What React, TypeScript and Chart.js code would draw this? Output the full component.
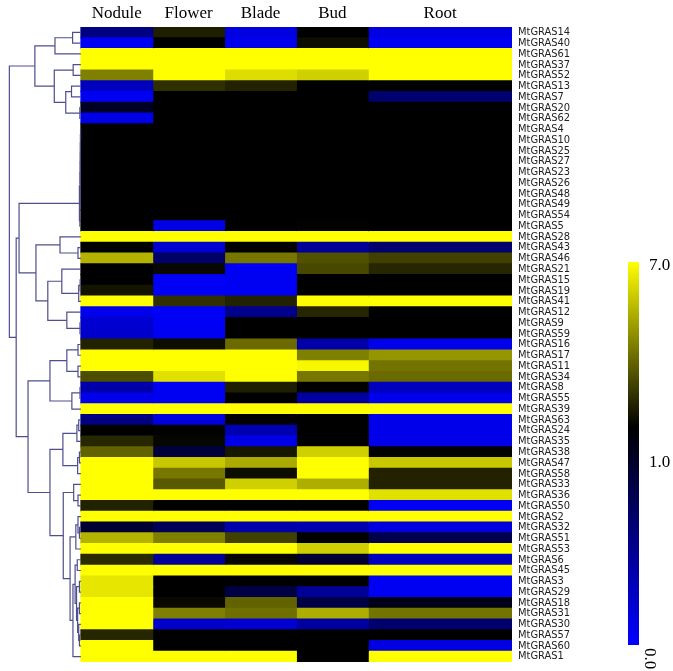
import { useEffect, useRef } from 'react';
import { Chart, registerables } from 'chart.js';

Chart.register(...registerables);

// ---------- data ----------
const genes = [
  'MtGRAS14', 'MtGRAS40', 'MtGRAS61', 'MtGRAS37', 'MtGRAS52', 'MtGRAS13', 'MtGRAS7', 'MtGRAS20', 'MtGRAS62',
  'MtGRAS4', 'MtGRAS10', 'MtGRAS25', 'MtGRAS27', 'MtGRAS23', 'MtGRAS26', 'MtGRAS48', 'MtGRAS49', 'MtGRAS54',
  'MtGRAS5', 'MtGRAS28', 'MtGRAS43', 'MtGRAS46', 'MtGRAS21', 'MtGRAS15', 'MtGRAS19', 'MtGRAS41', 'MtGRAS12',
  'MtGRAS9', 'MtGRAS59', 'MtGRAS16', 'MtGRAS17', 'MtGRAS11', 'MtGRAS34', 'MtGRAS8', 'MtGRAS55', 'MtGRAS39',
  'MtGRAS63', 'MtGRAS24', 'MtGRAS35', 'MtGRAS38', 'MtGRAS47', 'MtGRAS58', 'MtGRAS33', 'MtGRAS36', 'MtGRAS50',
  'MtGRAS2', 'MtGRAS32', 'MtGRAS51', 'MtGRAS53', 'MtGRAS6', 'MtGRAS45', 'MtGRAS3', 'MtGRAS29', 'MtGRAS18',
  'MtGRAS31', 'MtGRAS30', 'MtGRAS57', 'MtGRAS60', 'MtGRAS1',
];

const tissues = ['Nodule', 'Flower', 'Blade', 'Bud', 'Root'];

const nodule = [
  0.5, 0.05, 7, 7, 4.0, 0.25, 0.05, 0.85, 0.1,
  1, 1, 1, 1, 1, 1, 1, 1, 1, 1,
  7, 1, 5.2, 1, 1, 1.45, 7, 0.08, 0.18, 0.2, 1.8,
  7, 7, 2.8, 0.33, 0.08, 7, 0.5, 1, 1.9, 3.3,
  7, 7, 7, 7, 1.8, 7, 0.8, 5.2, 7, 2.0,
  7, 6.4, 6.4, 7, 7, 7, 1.9, 7, 7,
];
const flower = [
  1.7, 1.0, 7, 7, 7, 2.1, 1, 1, 1,
  1, 1, 1, 1, 1, 1, 1, 1, 1, 0.1,
  7, 0.18, 0.6, 1.2, 0.03, 0.03, 2.1, 0.03, 0.03, 0.05, 1.3,
  7, 7, 6.3, 0.05, 0.05, 7, 0.13, 1.05, 1.15, 0.77,
  5.7, 3.8, 3.1, 7, 1, 7, 0.65, 4.0, 7, 0.4,
  7, 1, 1, 1.2, 4.0, 0.2, 1, 1, 7,
];
const blade = [
  0.12, 0.08, 7, 7, 6.2, 1.8, 1, 1, 1,
  1, 1, 1, 1, 1, 1, 1, 1, 1, 1,
  7, 1, 3.8, 0.05, 0.05, 0.05, 1.8, 0.45, 1, 1, 3.5,
  7, 7, 7, 1.7, 1, 7, 1, 0.3, 0.1, 1.55,
  5.0, 1.3, 5.9, 7, 1, 7, 0.33, 2.5, 7, 1.2,
  7, 1, 0.73, 3.3, 3.6, 0.18, 1, 1, 7,
];
const bud = [
  1, 1.3, 7, 7, 5.9, 1, 1, 1, 1,
  1, 1, 1, 1, 1, 1, 1, 1, 1, 1.05,
  7, 0.4, 2.9, 2.7, 1, 1, 7, 1.9, 1, 1, 0.33,
  4.0, 6.8, 3.8, 1, 0.37, 7, 1, 1, 1, 5.9,
  7, 7, 5.1, 7, 1, 7, 0.31, 1, 5.9, 0.8,
  7, 1, 0.4, 0.73, 5.1, 0.37, 1, 1, 1,
];
const root = [
  0.12, 0.05, 7, 7, 7, 1, 0.57, 1, 1,
  1, 1, 1, 1, 1, 1, 1, 1, 1, 1,
  7, 0.57, 2.5, 1.9, 1, 1, 7, 1, 1, 1, 0.08,
  4.5, 3.7, 3.5, 0.25, 0.08, 7, 0.08, 0.08, 0.08, 1.05,
  5.7, 1.8, 1.8, 6.3, 0.05, 7, 0.13, 0.7, 7, 0.25,
  7, 0.05, 0.05, 0.9, 3.7, 0.57, 1, 0.12, 7,
];

const colorTicks = ['0.0', '1.0', '7.0'];

// dendrogram merges: [childA, childB, height]; numbers are row indices, 'mK' is merge K
const merges: [number | string, number | string, number][] = [
  [0, 1, 0.115], // m0
  ['m0', 2, 0.36], // m1
  [3, 4, 0.107], // m2
  [5, 6, 0.13], // m3
  [7, 8, 0.014], // m4
  ['m3', 'm4', 0.21], // m5
  ['m2', 'm5', 0.37], // m6
  ['m1', 'm6', 0.64], // m7
  [9, 10, 0.004], // m8
  ['m8', 11, 0.006], // m9
  ['m9', 12, 0.007], // m10
  ['m10', 13, 0.008], // m11
  ['m11', 14, 0.009], // m12
  [15, 16, 0.006], // m13
  ['m12', 'm13', 0.012], // m14
  [17, 18, 0.014], // m15
  ['m14', 'm15', 0.02], // m16
  [20, 21, 0.04], // m17
  [19, 'm17', 0.29], // m18
  [23, 24, 0.01], // m19
  ['m19', 25, 0.03], // m20
  [22, 'm20', 0.265], // m21
  [27, 28, 0.012], // m22
  [26, 'm22', 0.195], // m23
  ['m21', 'm23', 0.46], // m24
  ['m18', 'm24', 0.625], // m25
  ['m16', 'm25', 0.86], // m26
  [29, 30, 0.04], // m27
  [31, 32, 0.04], // m28
  ['m27', 'm28', 0.195], // m29
  [33, 34, 0.012], // m30
  ['m30', 35, 0.125], // m31
  ['m29', 'm31', 0.43], // m32
  [36, 37, 0.03], // m33
  ['m33', 38, 0.055], // m34
  [39, 40, 0.02], // m35
  ['m35', 41, 0.045], // m36
  ['m34', 'm36', 0.25], // m37
  [43, 44, 0.04], // m38
  [42, 'm38', 0.1], // m39
  [46, 47, 0.02], // m40
  [45, 'm40', 0.04], // m41
  ['m41', 48, 0.07], // m42
  [49, 50, 0.05], // m43
  [51, 52, 0.02], // m44
  [53, 54, 0.02], // m45
  [56, 57, 0.02], // m46
  [55, 'm46', 0.03], // m47
  ['m45', 'm47', 0.045], // m48
  ['m44', 'm48', 0.06], // m49
  ['m43', 'm49', 0.08], // m50
  ['m50', 58, 0.11], // m51
  ['m42', 'm51', 0.15], // m52
  ['m39', 'm52', 0.245], // m53
  ['m37', 'm53', 0.43], // m54
  ['m32', 'm54', 0.735], // m55
  ['m26', 'm55', 0.9], // m56
  ['m7', 'm56', 0.995], // m57
];

// ---------- helpers ----------
const series = [nodule, flower, blade, bud, root];
const colWidth = [1, 1, 1, 1, 2];
const colStart = colWidth.map((_, i) => colWidth.slice(0, i).reduce((a, b) => a + b, 0));
const totalWidth = colWidth.reduce((a, b) => a + b, 0);

function colorFor(v: number): string {
  if (v <= 1) {
    const b = Math.round(255 * (1 - Math.max(0, v)));
    return `rgb(0,0,${b})`;
  }
  const y = Math.round(255 * Math.min(1, (v - 1) / 6));
  return `rgb(${y},${y},0)`;
}

const dendroPlugin = {
  id: 'dendro',
  afterDatasetsDraw(chart: any) {
    const xs = chart.scales.x;
    const ys = chart.scales.y;
    const ctx = chart.ctx;
    const pos: number[] = [];
    const ref = (r: number | string) => (typeof r === 'number' ? r : pos[+r.slice(1)]);
    const hgt = (r: number | string) => (typeof r === 'number' ? 0 : merges[+r.slice(1)][2]);
    merges.forEach((m, i) => {
      pos[i] = (ref(m[0]) + ref(m[1])) / 2;
    });
    ctx.save();
    ctx.strokeStyle = '#4e4e8e';
    ctx.lineWidth = 1.2;
    merges.forEach((m) => {
      const [a, b, h] = m;
      const x = xs.getPixelForValue(-h);
      const ya = ys.getPixelForValue(ref(a));
      const yb = ys.getPixelForValue(ref(b));
      ctx.beginPath();
      ctx.moveTo(xs.getPixelForValue(-hgt(a)), ya);
      ctx.lineTo(x, ya);
      ctx.lineTo(x, yb);
      ctx.lineTo(xs.getPixelForValue(-hgt(b)), yb);
      ctx.stroke();
    });
    ctx.restore();
  },
};

const colorbarPlugin = {
  id: 'colorbar',
  afterDraw(chart: any) {
    const ctx = chart.ctx;
    const x0 = 628, w = 11, top = 262, bottom = 645, blackY = 427;
    const g = ctx.createLinearGradient(0, bottom, 0, top);
    g.addColorStop(0, colorFor(0));
    g.addColorStop((bottom - blackY) / (bottom - top), colorFor(1));
    g.addColorStop(1, colorFor(7));
    ctx.save();
    ctx.fillStyle = g;
    ctx.fillRect(x0, top, w, bottom - top);
    ctx.fillStyle = '#000';
    ctx.font = '17px "Liberation Serif", "Times New Roman", serif';
    ctx.textAlign = 'left';
    ctx.textBaseline = 'middle';
    ctx.fillText(colorTicks[2], 649, top + 4);
    ctx.fillText(colorTicks[1], 649, 463);
    ctx.translate(645, 648);
    ctx.rotate(Math.PI / 2);
    ctx.textBaseline = 'alphabetic';
    ctx.fillText(colorTicks[0], 0, 0);
    ctx.restore();
  },
};

export default function App() {
  const ref = useRef<HTMLCanvasElement>(null);
  useEffect(() => {
    if (!ref.current) return;
    const datasets = tissues.map((t, ti) => ({
      label: t,
      data: genes.map(() => [colStart[ti], colStart[ti] + colWidth[ti]]),
      backgroundColor: series[ti].map(colorFor),
      borderWidth: 0,
      inflateAmount: 0.5,
      barPercentage: 1,
      categoryPercentage: 1,
      grouped: false,
    }));
    const chart = new Chart(ref.current, {
      type: 'bar',
      data: { labels: genes, datasets },
      options: {
        indexAxis: 'y',
        responsive: false,
        animation: false,
        events: [],
        layout: { padding: { left: 9, right: 101, top: 0, bottom: 9 } },
        plugins: { legend: { display: false }, tooltip: { enabled: false } },
        scales: {
          x: {
            type: 'linear',
            position: 'top',
            min: -1,
            max: totalWidth,
            grid: { display: false },
            border: { display: false },
            afterFit: (s: any) => { s.height = 27; },
            afterBuildTicks: (s: any) => {
              s.ticks = colStart.map((c, i) => ({ value: c + colWidth[i] / 2 }));
            },
            ticks: {
              autoSkip: false,
              maxRotation: 0,
              padding: -5,
              color: '#000',
              font: { family: '"Liberation Serif", "Times New Roman", serif', size: 17 },
              callback: (_v: any, i: number) => tissues[i],
            },
          },
          y: {
            type: 'category',
            position: 'right',
            offset: true,
            grid: { display: false },
            border: { display: false },
            afterFit: (s: any) => { s.width = 60; },
            ticks: {
              autoSkip: false,
              padding: -2,
              color: '#222',
              font: { family: '"Liberation Sans Narrow", "Arial Narrow", "DejaVu Sans Condensed", "Liberation Sans", sans-serif', size: 11 },
            },
          },
        },
      },
      plugins: [dendroPlugin, colorbarPlugin],
    } as any);
    return () => chart.destroy();
  }, []);
  return (
    <div style={{ position: 'absolute', left: 0, top: 0, width: 673, height: 671, background: '#fff' }}>
      <canvas ref={ref} width={673} height={671} style={{ display: 'block', width: 673, height: 671 }} />
    </div>
  );
}
